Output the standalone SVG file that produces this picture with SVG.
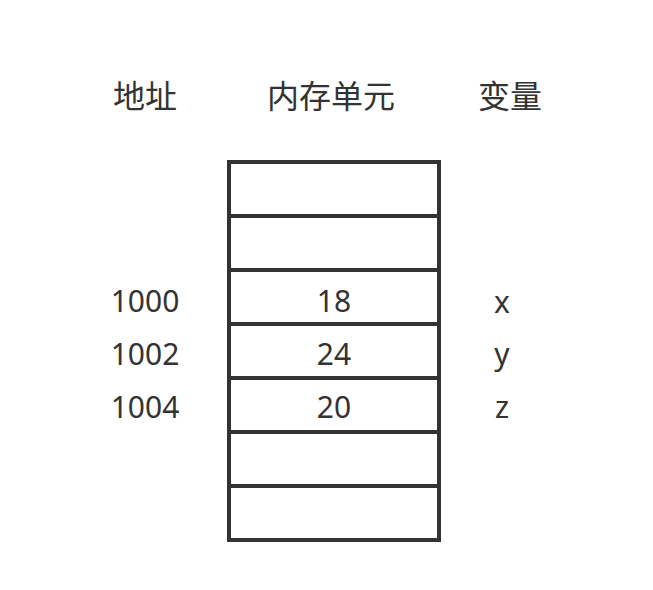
<svg xmlns="http://www.w3.org/2000/svg" width="653" height="590" viewBox="0 0 653 590">
<style>
.t{font-family:"Noto Sans","Noto Sans CJK SC",sans-serif;fill:#333;text-anchor:middle}
.h{font-size:32px}
.n{font-size:30px}
.c{fill:#fff;stroke:#333;stroke-width:4}
</style>
<rect width="653" height="590" fill="#fff"/>
<g id="headers">
<text class="t h" x="145" y="95" dominant-baseline="central">地址</text>
<text class="t h" x="331" y="95" dominant-baseline="central">内存单元</text>
<text class="t h" x="510" y="95" dominant-baseline="central">变量</text>
</g>
<g id="memory">
<rect class="c" x="229" y="162" width="210" height="54"/>
<rect class="c" x="229" y="216" width="210" height="54"/>
<rect class="c" x="229" y="270" width="210" height="54"/>
<rect class="c" x="229" y="324" width="210" height="54"/>
<rect class="c" x="229" y="378" width="210" height="54"/>
<rect class="c" x="229" y="432" width="210" height="54"/>
<rect class="c" x="229" y="486" width="210" height="54"/>
<text class="t n" x="334" y="312">18</text>
<text class="t n" x="334" y="365">24</text>
<text class="t n" x="334" y="418">20</text>
</g>
<g id="addresses">
<text class="t n" x="145" y="312">1000</text>
<text class="t n" x="145" y="365">1002</text>
<text class="t n" x="145" y="418">1004</text>
</g>
<g id="variables">
<text class="t n" x="502" y="313">x</text>
<text class="t n" x="502" y="365">y</text>
<text class="t n" x="502" y="418">z</text>
</g>
<g id="connectors"/>
</svg>
